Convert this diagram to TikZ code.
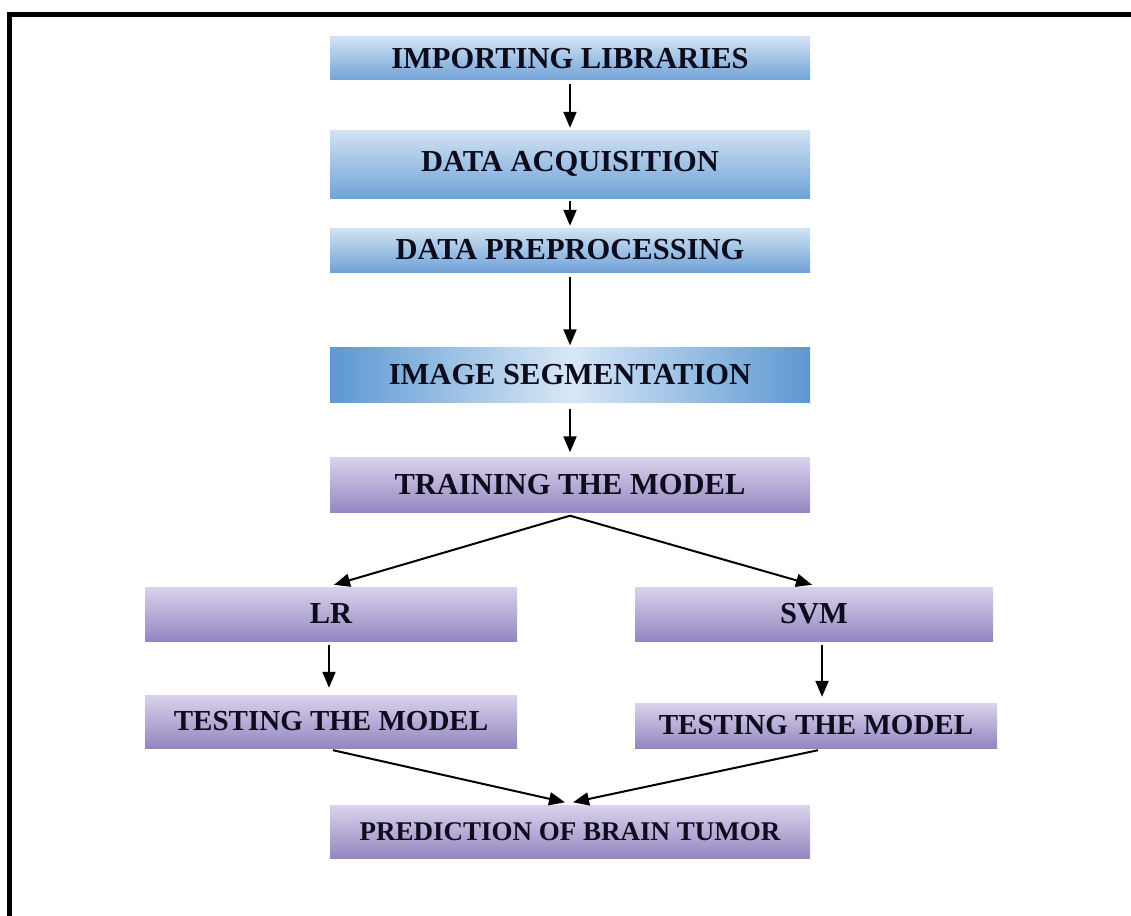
\documentclass[tikz,border=0pt]{standalone}
\usepackage{fontspec}
\setmainfont{Liberation Serif}
\usepackage{tikz}
\usetikzlibrary{arrows.meta}

\definecolor{bluetop}{RGB}{210,226,243}
\definecolor{bluebot}{RGB}{112,163,216}
\definecolor{blueside}{RGB}{92,152,210}
\definecolor{bluemid}{RGB}{216,231,246}
\definecolor{violettop}{RGB}{218,210,236}
\definecolor{violetbot}{RGB}{148,134,192}
\definecolor{inkblue}{RGB}{12,12,28}

\begin{document}
\begin{tikzpicture}[x=1pt,y=-1pt,
    stage/.style={inner sep=0pt, text=inkblue, font=\fontsize{30.5}{36}\selectfont\bfseries},
    bluebox/.style={stage, top color=bluetop, bottom color=bluebot},
    violetbox/.style={stage, top color=violettop, bottom color=violetbot},
    flow/.style={line width=2pt, -{Triangle[length=16pt,width=13pt]}}]
            \useasboundingbox (0,0) rectangle (1131,915);
            \fill[white] (0,0) rectangle (1131,915);
            \draw[line width=5pt] (9.5,930) -- (9.5,14.5) -- (1140,14.5);

            \node[bluebox, minimum width=480pt, minimum height=43pt] (libs) at (570,58.5) {IMPORTING LIBRARIES};
            \node[bluebox, minimum width=480pt, minimum height=68pt] (acq) at (570,164) {DATA ACQUISITION};
            \node[bluebox, minimum width=480pt, minimum height=44pt] (prep) at (570,250) {DATA PREPROCESSING};
            \node[stage, left color=blueside, right color=blueside, middle color=bluemid,
                  minimum width=480pt, minimum height=55pt] (seg) at (570,375) {IMAGE SEGMENTATION};
            \node[violetbox, minimum width=480pt, minimum height=55pt] (train) at (570,485) {TRAINING THE MODEL};
            \node[violetbox, minimum width=372pt, minimum height=54pt] (lr) at (331,614) {LR};
            \node[violetbox, minimum width=358pt, minimum height=54pt] (svm) at (814,614) {SVM};
            \node[violetbox, minimum width=372pt, minimum height=53pt, font=\fontsize{29}{34}\selectfont\bfseries] (testlr) at (331,721.5) {TESTING THE MODEL};
            \node[violetbox, minimum width=362pt, minimum height=45pt, font=\fontsize{29}{34}\selectfont\bfseries] (testsvm) at (816,725.5) {TESTING THE MODEL};
            \node[violetbox, minimum width=480pt, minimum height=53pt, font=\fontsize{27}{32}\selectfont\bfseries] (tumor) at (570,832) {PREDICTION OF BRAIN TUMOR};

            \draw[flow] ([yshift=-4pt]libs.south) -- ([yshift=2pt]acq.north);
            \draw[flow] ([yshift=-3pt]acq.south) -- ([yshift=2pt]prep.north);
            \draw[flow] ([yshift=-5pt]prep.south) -- ([yshift=2pt]seg.north);
            \draw[flow] ([yshift=-6pt]seg.south) -- ([yshift=5pt]train.north);
            \draw[flow] ([yshift=-3pt]train.south) -- ([xshift=3pt,yshift=2pt]lr.north);
            \draw[flow] ([yshift=-3pt]train.south) -- ([xshift=-2pt,yshift=2pt]svm.north);
            \draw[flow] ([xshift=-2pt,yshift=-4pt]lr.south) -- ([xshift=-2pt,yshift=7pt]testlr.north);
            \draw[flow] ([xshift=8pt,yshift=-4pt]svm.south) -- ([xshift=6pt,yshift=6pt]testsvm.north);
            \draw[flow] ([xshift=2pt,yshift=-2pt]testlr.south) -- ([xshift=-5pt,yshift=3pt]tumor.north);
            \draw[flow] ([xshift=2pt,yshift=-2pt]testsvm.south) -- ([xshift=3pt,yshift=3pt]tumor.north);
        \end{tikzpicture}
\end{document}
